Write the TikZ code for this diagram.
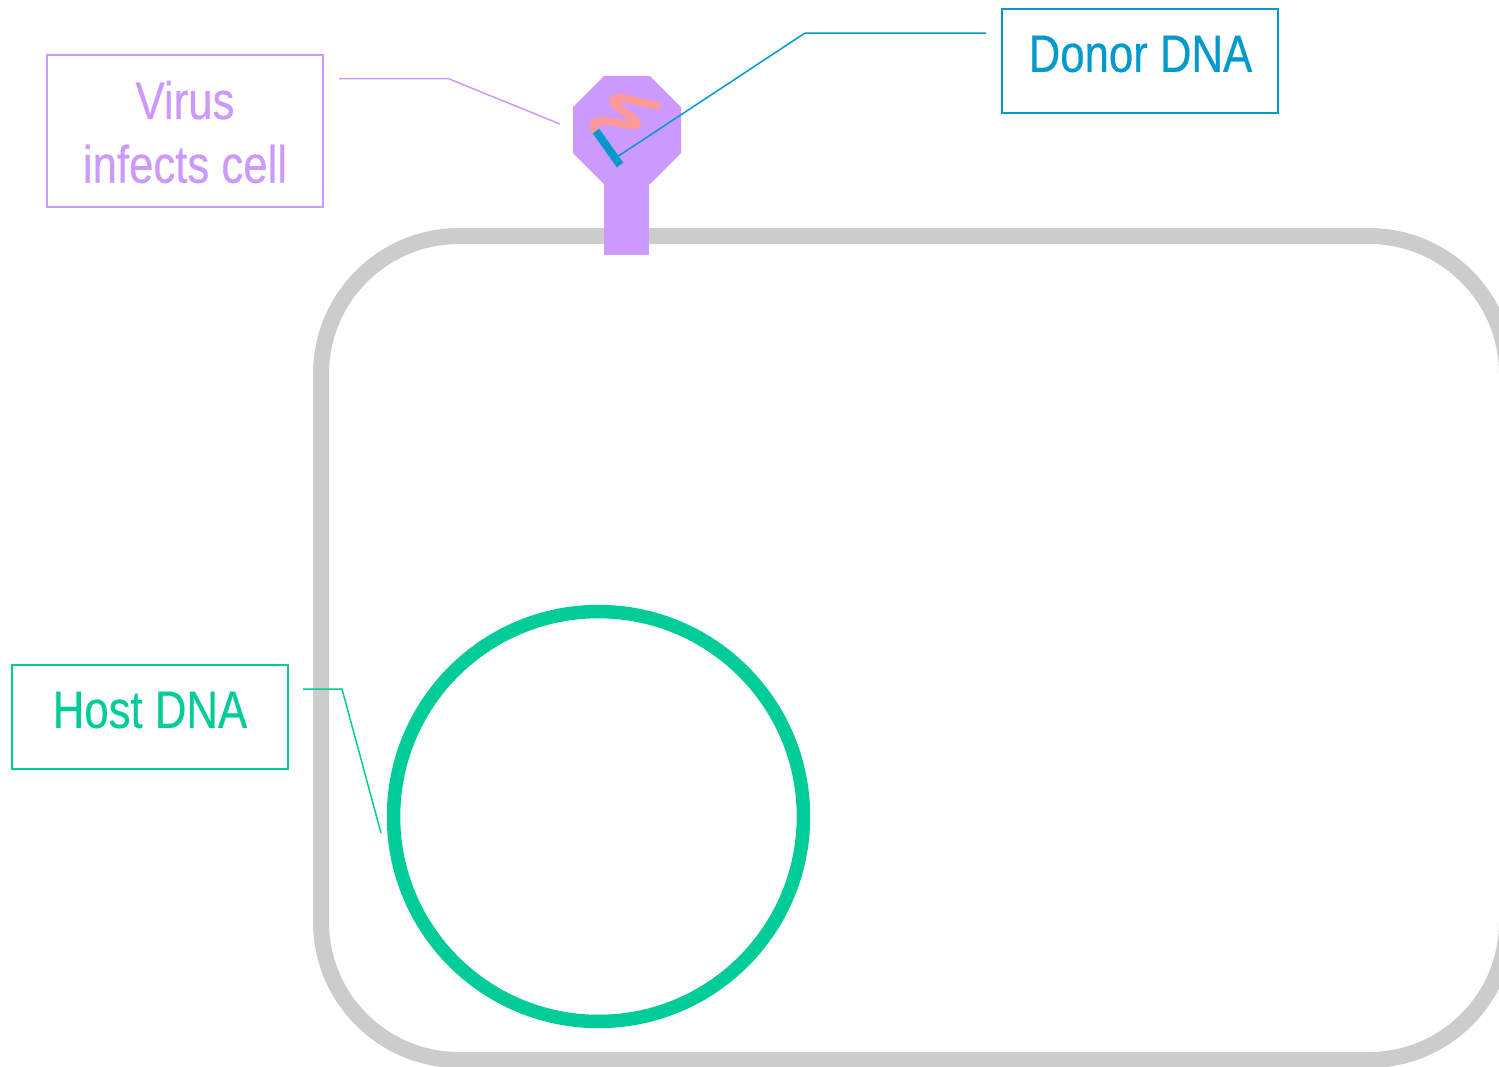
\documentclass[tikz,border=0pt]{standalone}
\usepackage{fontspec}
\setmainfont{Liberation Sans}
\newfontfamily\narrowface[FakeStretch=0.83,FakeBold=0.4]{Liberation Sans}
\definecolor{viruscol}{HTML}{CC99FF}
\definecolor{donorcol}{HTML}{0099CC}
\definecolor{hostcol}{HTML}{00CC99}
\definecolor{cellcol}{HTML}{CCCCCC}
\definecolor{rnacol}{HTML}{FF9999}
\tikzset{
  x=0.02cm,y=-0.02cm,
  labelbox/.style={draw=#1,line width=0.03cm,minimum width=5.52cm,inner sep=0pt},
  labeltext/.style={text=#1,align=center,inner sep=0pt,font=\narrowface\fontsize{30}{36.3}\selectfont},
  leader/.style={draw=#1,line width=0.03cm},
}
\begin{document}
\begin{tikzpicture}
\useasboundingbox (0,0) rectangle (1499,1066);
\begin{scope}
\clip (0,0) rectangle (1499,1066);
% cell wall
\draw[cellcol,line width=0.32cm,rounded corners=2.76cm] (321,236) rectangle (1507,1060);
% host chromosome
\node[circle,draw=hostcol,line width=0.27cm,minimum size=8.2cm,inner sep=0pt] (host) at (598.5,816.5) {};
% virus head and tail
\fill[viruscol] (604,170) rectangle (649,255);
\fill[viruscol] (604,76) -- (650,76) -- (681,107) -- (681,153) -- (650,184) -- (604,184) -- (573,153) -- (573,107) -- cycle;
\draw[rnacol,line width=0.16cm,line join=round] (596,131) .. controls (590,124) and (595,121) .. (602,121) .. controls (615,121) and (636,128) .. (637,124) .. controls (638,118) and (610,105) .. (613,100) .. controls (616,94) and (640,103) .. (660,106);
\draw[donorcol,line width=0.16cm] (596,131) -- (620,165);
\coordinate (donorend) at (617,157);
\coordinate (virusend) at (560,124);
\coordinate (hostend) at (381,833);
\end{scope}
% callouts
\node[labelbox=viruscol,minimum height=3.04cm] (virus) at (185,131) {};
\node[labeltext=viruscol] (virustext) at (185,132) {Virus\\infects cell};
\node[labelbox=donorcol,minimum height=2.08cm] (donor) at (1140,61) {};
\node[labeltext=donorcol] (donortext) at (1140.5,54) {Donor DNA};
\node[labelbox=hostcol,minimum height=2.08cm] (hostlabel) at (150,717) {};
\node[labeltext=hostcol] (hosttext) at (150,710) {Host DNA};
\draw[leader=viruscol] (339,78.5) -- (448,78.5) -- (virusend);
\draw[leader=donorcol] (986,33) -- (805,33) -- (donorend);
\draw[leader=hostcol] (303,689) -- (342,689) -- (hostend);
\end{tikzpicture}
\end{document}
